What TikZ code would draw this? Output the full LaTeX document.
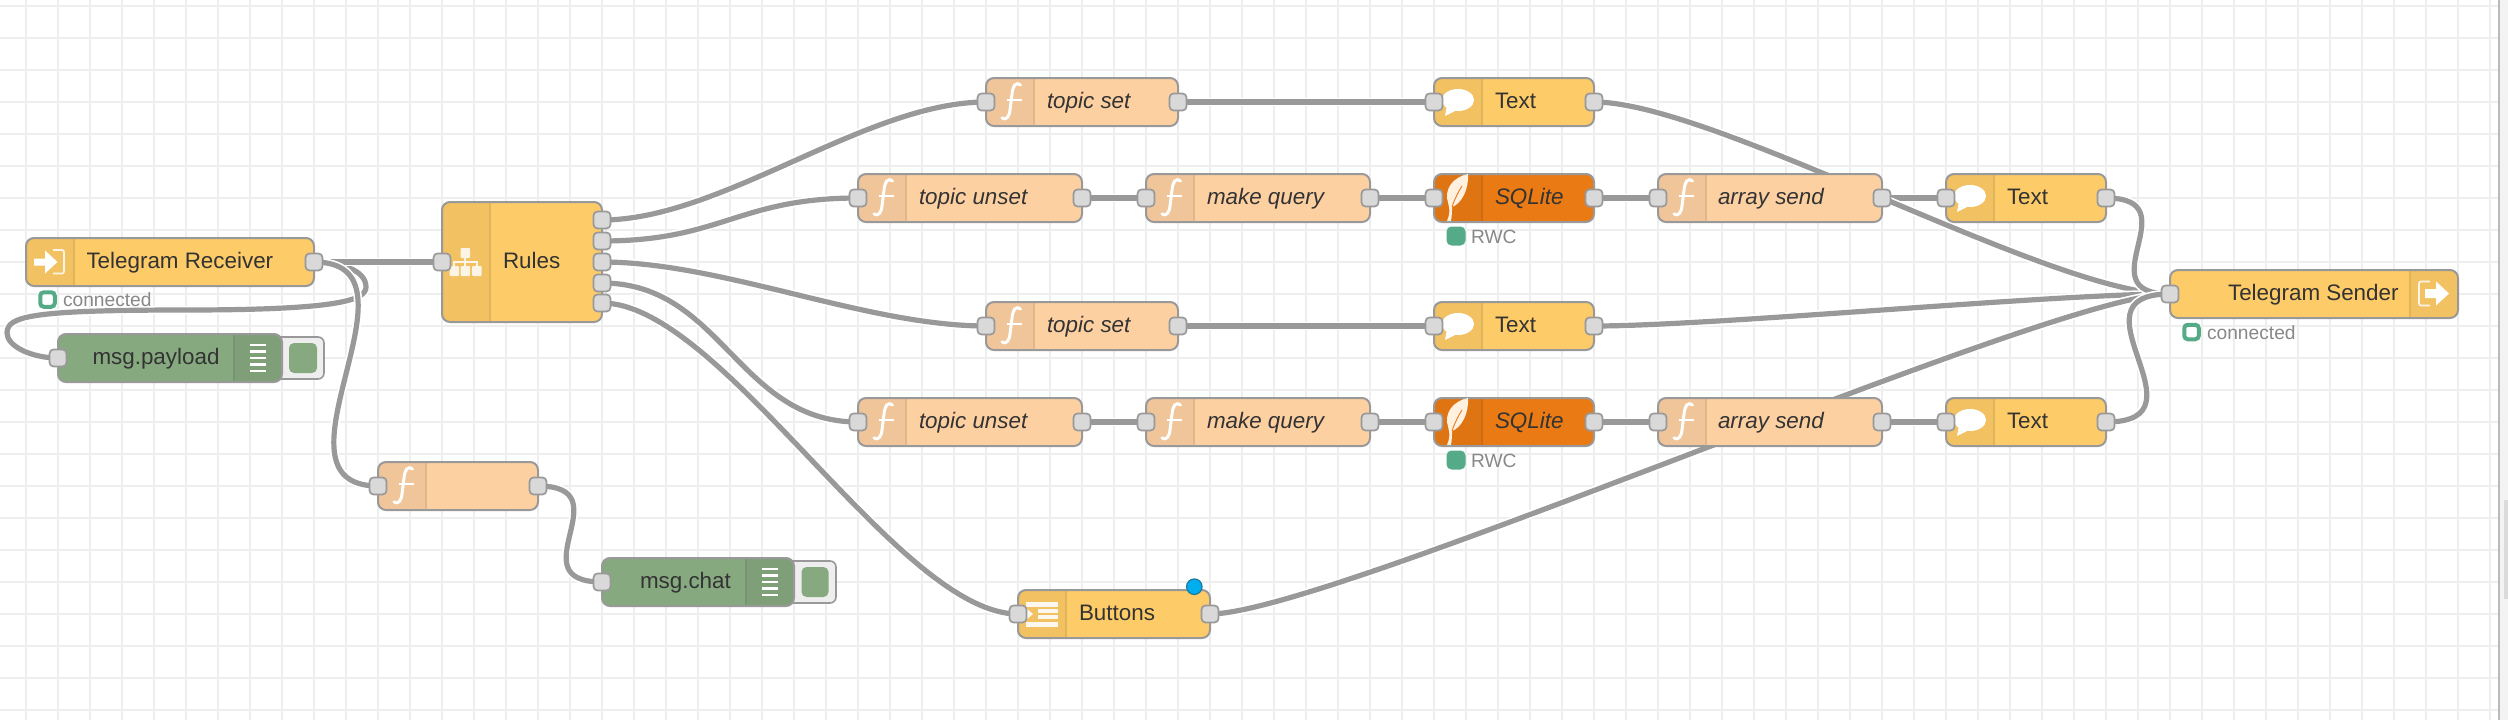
\documentclass[tikz,border=0pt]{standalone}
\usepackage{fontspec}
\setmainfont{Liberation Sans}
\pgfdeclarelayer{under}
\pgfsetlayers{under,main}
\definecolor{gridc}{HTML}{EEEEEE}
\definecolor{wirec}{HTML}{999999}
\definecolor{portc}{HTML}{D9D9D9}
\definecolor{txtc}{HTML}{333333}
\definecolor{stc}{HTML}{888888}
\definecolor{okc}{HTML}{55AA88}
\definecolor{yel}{HTML}{FDCB67}
\definecolor{yeld}{HTML}{F1C162}
\definecolor{fun}{HTML}{FDD0A2}
\definecolor{fund}{HTML}{F0C59A}
\definecolor{dbg}{HTML}{87A980}
\definecolor{dbgd}{HTML}{7F9F79}
\definecolor{sql}{HTML}{EA7A14}
\definecolor{sqld}{HTML}{DE7412}
\definecolor{depc}{HTML}{00AEEF}
\definecolor{depb}{HTML}{1A7A9C}
\tikzset{
  x=1pt,y=-1pt,
  portbox/.style={draw=wirec,fill=portc,line width=1.7pt,rounded corners=4pt,minimum width=17pt,minimum height=17pt,inner sep=0pt,outer sep=0pt},
  boxbase/.style={rectangle,inner sep=0pt,outer sep=0pt,rounded corners=8pt},
  nrlab/.style={anchor=base west,inner sep=0pt,outer sep=0pt,text=txtc,font=\fontsize{22.4pt}{26pt}\selectfont},
  nrital/.style={nrlab,font=\fontsize{22.4pt}{26pt}\selectfont\itshape},
  stlab/.style={anchor=base west,inner sep=0pt,outer sep=0pt,text=stc,font=\fontsize{19.2pt}{22pt}\selectfont},
  wirecase/.style={draw=white,line width=8.5pt},
  wireline/.style={draw=wirec,line width=5.2pt},
}
% name, x1, x2, ytop, ybot, base, dark, section x1, section x2
\newcommand\nrbox[9]{%
  \node[boxbase,fill=#6,minimum width={(#3)-(#2)},minimum height={(#5)-(#4)}] (#1) at ({((#2)+(#3))/2},{((#4)+(#5))/2}) {};
  \begin{scope}
    \clip[rounded corners=8pt] (#2,#4) rectangle (#3,#5);
    \fill[#7] (#8,#4) rectangle (#9,#5);
    \draw[black!7!#7,line width=1.4pt] (#8,#4) rectangle (#9,#5);
  \end{scope}
  \draw[wirec,line width=2pt,rounded corners=8pt] (#2,#4) rectangle (#3,#5);
}
\newcommand\nrport[3]{\node[portbox] (#1) at (#2,#3) {};}
\newcommand\wirepath[3]{%
  \begin{pgfonlayer}{under}
  \path[wirecase] (#1.center) .. controls ([xshift=#3pt]#1.center) and ([xshift=-#3pt]#2.center) .. (#2.center);
  \path[wireline] (#1.center) .. controls ([xshift=#3pt]#1.center) and ([xshift=-#3pt]#2.center) .. (#2.center);
  \end{pgfonlayer}
}
% function icon at section left x, centre y
\newcommand\fnicon[2]{%
  \begin{scope}[shift={(#1,#2)}]
    \draw[white,line width=3pt,line cap=round] (34.5,-17) .. controls (29,-20.5) and (27,-16) .. (26,-8) -- (24,8) .. controls (23,15.5) and (20,18.5) .. (16,16);
    \draw[white,line width=1.9pt] (20.5,-2) -- (35.5,-2);
  \end{scope}}
\newcommand\bubbleicon[2]{%
  \begin{scope}[shift={(#1,#2)}]
    \fill[white] (24,-2) ellipse [x radius=16,y radius=11];
    \fill[white] (13,3) -- (11,14) -- (23,8) -- cycle;
  \end{scope}}
\newcommand\feathericon[2]{%
  \begin{scope}[shift={(#1,#2)}]
    \fill[white!88!orange] (34,-24) .. controls (20,-21) and (12,-11) .. (13,0) -- (15,9) .. controls (16,14) and (15,18) .. (13,23) -- (17,23) .. controls (18,17) and (18,13) .. (18,9) .. controls (27,6) and (35,-8) .. (34,-24) -- cycle;
    \draw[sql,line width=0.9pt] (28,-12) .. controls (23,-4) and (20,3) .. (18,9);
  \end{scope}}
\newcommand\debugicon[2]{%
  \begin{scope}[shift={(#1,#2)}]
    \foreach \yy in {-13,-6.5,0,6.5,13} {\draw[white,line width=2.3pt] (0,\yy) -- (16,\yy);}
  \end{scope}}
\newcommand\stsquare[3]{\node[draw=okc,fill=white,line width=4pt,rounded corners=3.5pt,minimum width=14.5pt,minimum height=14.5pt,inner sep=0pt,outer sep=0pt] (#1) at (#2,#3) {};}
\newcommand\stdot[3]{\node[fill=okc,rounded corners=5pt,minimum width=19pt,minimum height=19pt,inner sep=0pt,outer sep=0pt] (#1) at (#2,#3) {};}
\begin{document}
\begin{tikzpicture}
\path[use as bounding box] (0,0) rectangle (2508,720);
\begin{pgfonlayer}{under}
  \fill[white] (0,0) rectangle (2508,720);
  \foreach \gx in {0,...,77} {\draw[gridc,line width=1.8pt] ({26+32*\gx},0) -- ({26+32*\gx},720);}
  \foreach \gy in {0,...,22} {\draw[gridc,line width=1.8pt] (0,{6+32*\gy}) -- (2499,{6+32*\gy});}
  \fill[gridc!70!white] (2499,0) rectangle (2508,720);
  \fill[black!27] (2498,0) rectangle (2500,720);
  \fill[black!14] (2504,500) rectangle (2508,599);
\end{pgfonlayer}

% --- nodes
\nrbox{tr}{26}{314}{238}{286}{yel}{yeld}{26}{74}
\nrbox{rules}{442}{602}{202}{322}{yel}{yeld}{442}{490}
% debug buttons first, so the node overlaps them
\node[draw=wirec,fill=gridc,line width=1.6pt,rounded corners=6pt,minimum width=50pt,minimum height=42pt,inner sep=0pt] (pbtn) at (299,358) {};
\node[fill=dbg,rounded corners=5pt,minimum width=28pt,minimum height=30pt,inner sep=0pt] (pbtni) at (303,358) {};
\node[draw=wirec,fill=gridc,line width=1.6pt,rounded corners=6pt,minimum width=50pt,minimum height=42pt,inner sep=0pt] (cbtn) at (811,582) {};
\node[fill=dbg,rounded corners=5pt,minimum width=27pt,minimum height=30pt,inner sep=0pt] (cbtni) at (815,582) {};
\nrbox{payload}{58}{282}{334}{382}{dbg}{dbgd}{234}{282}
\nrbox{fblank}{378}{538}{462}{510}{fun}{fund}{378}{426}
\nrbox{chat}{602}{794}{558}{606}{dbg}{dbgd}{746}{794}
\nrbox{buttons}{1018}{1210}{590}{638}{yel}{yeld}{1018}{1066}
\nrbox{tsa}{986}{1178}{78}{126}{fun}{fund}{986}{1034}
\nrbox{txa}{1434}{1594}{78}{126}{yel}{yeld}{1434}{1482}
\nrbox{tua}{858}{1082}{174}{222}{fun}{fund}{858}{906}
\nrbox{mqa}{1146}{1370}{174}{222}{fun}{fund}{1146}{1194}
\nrbox{sqa}{1434}{1594}{174}{222}{sql}{sqld}{1434}{1482}
\nrbox{asa}{1658}{1882}{174}{222}{fun}{fund}{1658}{1706}
\nrbox{txb}{1946}{2106}{174}{222}{yel}{yeld}{1946}{1994}
\nrbox{sender}{2170}{2458}{270}{318}{yel}{yeld}{2410}{2458}
\nrbox{tsb}{986}{1178}{302}{350}{fun}{fund}{986}{1034}
\nrbox{txc}{1434}{1594}{302}{350}{yel}{yeld}{1434}{1482}
\nrbox{tub}{858}{1082}{398}{446}{fun}{fund}{858}{906}
\nrbox{mqb}{1146}{1370}{398}{446}{fun}{fund}{1146}{1194}
\nrbox{sqb}{1434}{1594}{398}{446}{sql}{sqld}{1434}{1482}
\nrbox{asb}{1658}{1882}{398}{446}{fun}{fund}{1658}{1706}
\nrbox{txd}{1946}{2106}{398}{446}{yel}{yeld}{1946}{1994}

% --- icons
% Telegram receiver
\fill[white] (34,258.5) -- (45,258.5) -- (45,250.5) -- (57.5,262) -- (45,273.5) -- (45,265.5) -- (34,265.5) -- cycle;
\draw[white,line width=1.7pt,opacity=.85,rounded corners=2pt] (53,250) -- (64,250) -- (64,273.5) -- (53,273.5);
% Telegram sender
\fill[white] (2425,289) -- (2436,289) -- (2436,281.5) -- (2449,293.5) -- (2436,305.5) -- (2436,298) -- (2425,298) -- cycle;
\draw[white,line width=1.7pt,opacity=.85,rounded corners=2pt] (2430,281.5) -- (2419,281.5) -- (2419,305.5) -- (2430,305.5);
% Switch
\begin{scope}[white,opacity=.85]
  \fill[rounded corners=1pt] (460.5,248) rectangle (470,258);
  \fill[rounded corners=1pt] (449.5,266) rectangle (459,276);
  \fill[rounded corners=1pt] (460.5,266) rectangle (470,276);
  \fill[rounded corners=1pt] (472,266) rectangle (481.5,276);
  \draw[line width=1.5pt] (465,258) -- (465,266) (454,266) -- (454,262) -- (477,262) -- (477,266);
\end{scope}
\fnicon{986}{102} \fnicon{986}{326}
\fnicon{858}{198} \fnicon{858}{422}
\fnicon{1146}{198} \fnicon{1146}{422}
\fnicon{1658}{198} \fnicon{1658}{422}
\fnicon{378}{486}
\bubbleicon{1434}{102} \bubbleicon{1434}{326}
\bubbleicon{1946}{198} \bubbleicon{1946}{422}
\feathericon{1434}{198} \feathericon{1434}{422}
\debugicon{250}{358} \debugicon{762}{582}
% Buttons icon
\begin{scope}[white,opacity=.9]
  \fill (1026,602) rectangle (1058,607);
  \fill (1038,608.5) rectangle (1058,612.5);
  \fill (1038,615) rectangle (1058,619);
  \fill (1026,621.5) rectangle (1058,626.5);
  \fill (1026,608) -- (1033,614) -- (1026,620) -- cycle;
\end{scope}

% --- labels
\node[nrlab] (ltr) at (86.5,268.5) {Telegram Receiver};
\node[nrlab] (lrules) at (503,268.5) {Rules};
\node[nrlab] (lpay) at (92.5,364.5) {msg.payload};
\node[nrlab] (lchat) at (640,588.5) {msg.chat};
\node[nrlab] (lbtn) at (1079,620.5) {Buttons};
\node[nrlab] (lsend) at (2228,300.5) {Telegram Sender};
\node[nrlab] (ltxa) at (1495,108.5) {Text};
\node[nrlab] (ltxc) at (1495,332.5) {Text};
\node[nrlab] (ltxb) at (2007,204.5) {Text};
\node[nrlab] (ltxd) at (2007,428.5) {Text};
\node[nrital] (ltsa) at (1047,108.5) {topic set};
\node[nrital] (ltsb) at (1047,332.5) {topic set};
\node[nrital] (ltua) at (919,204.5) {topic unset};
\node[nrital] (ltub) at (919,428.5) {topic unset};
\node[nrital] (lmqa) at (1207,204.5) {make query};
\node[nrital] (lmqb) at (1207,428.5) {make query};
\node[nrital] (lsqa) at (1495,204.5) {SQLite};
\node[nrital] (lsqb) at (1495,428.5) {SQLite};
\node[nrital] (lasa) at (1718,204.5) {array send};
\node[nrital] (lasb) at (1718,428.5) {array send};

% --- status
\stsquare{strx}{47.5}{299.5}
\node[stlab] (sttr) at (63,306.8) {connected};
\stsquare{stsx}{2191.5}{332}
\node[stlab] (stse) at (2207,339) {connected};
\stdot{dsqa}{1456}{236}
\node[stlab] (lrwa) at (1471,243) {RWC};
\stdot{dsqb}{1456}{460}
\node[stlab] (lrwb) at (1471,467) {RWC};
\node[draw=depb,fill=depc,line width=1.2pt,circle,minimum size=15.5pt,inner sep=0pt] (dep) at (1194.3,586.7) {};

% --- ports
\nrport{trO}{314}{262}
\nrport{rI}{442}{262}
\nrport{rO1}{602}{220}
\nrport{rO2}{602}{241}
\nrport{rO3}{602}{262}
\nrport{rO4}{602}{283}
\nrport{rO5}{602}{303}
\nrport{payI}{58}{358}
\nrport{fbI}{378}{486}
\nrport{fbO}{538}{486}
\nrport{chI}{602}{582}
\nrport{bI}{1018}{614}
\nrport{bO}{1210}{614}
\nrport{tsaI}{986}{102}
\nrport{tsaO}{1178}{102}
\nrport{txaI}{1434}{102}
\nrport{txaO}{1594}{102}
\nrport{tuaI}{858}{198}
\nrport{tuaO}{1082}{198}
\nrport{mqaI}{1146}{198}
\nrport{mqaO}{1370}{198}
\nrport{sqaI}{1434}{198}
\nrport{sqaO}{1594}{198}
\nrport{asaI}{1658}{198}
\nrport{asaO}{1882}{198}
\nrport{txbI}{1946}{198}
\nrport{txbO}{2106}{198}
\nrport{seI}{2170}{294}
\nrport{tsbI}{986}{326}
\nrport{tsbO}{1178}{326}
\nrport{txcI}{1434}{326}
\nrport{txcO}{1594}{326}
\nrport{tubI}{858}{422}
\nrport{tubO}{1082}{422}
\nrport{mqbI}{1146}{422}
\nrport{mqbO}{1370}{422}
\nrport{sqbI}{1434}{422}
\nrport{sqbO}{1594}{422}
\nrport{asbI}{1658}{422}
\nrport{asbO}{1882}{422}
\nrport{txdI}{1946}{422}
\nrport{txdO}{2106}{422}

% --- wires
\begin{pgfonlayer}{under}
  \path[wirecase] (trO.center) .. controls (340,262) and (366,270) .. (366,287) .. controls (366,300) and (340,310) .. (186,310) .. controls (32,310) and (7,316) .. (7,333) .. controls (7,346) and (31,358) .. (payI.center);
  \path[wireline] (trO.center) .. controls (340,262) and (366,270) .. (366,287) .. controls (366,300) and (340,310) .. (186,310) .. controls (32,310) and (7,316) .. (7,333) .. controls (7,346) and (31,358) .. (payI.center);
\end{pgfonlayer}
\wirepath{trO}{rI}{20}
\wirepath{trO}{fbI}{120}
\wirepath{fbO}{chI}{86.6}
\wirepath{rO1}{tsaI}{120}
\wirepath{rO2}{tuaI}{120}
\wirepath{rO3}{tsbI}{120}
\wirepath{rO4}{tubI}{120}
\wirepath{rO5}{bI}{120}
\wirepath{tsaO}{txaI}{40}
\wirepath{tsbO}{txcI}{40}
\wirepath{tuaO}{mqaI}{20}
\wirepath{mqaO}{sqaI}{20}
\wirepath{sqaO}{asaI}{20}
\wirepath{asaO}{txbI}{20}
\wirepath{tubO}{mqbI}{20}
\wirepath{mqbO}{sqbI}{20}
\wirepath{sqbO}{asbI}{20}
\wirepath{asbO}{txdI}{20}
\wirepath{txaO}{seI}{120}
\wirepath{txcO}{seI}{120}
\wirepath{bO}{seI}{120}
\wirepath{txbO}{seI}{86.6}
\wirepath{txdO}{seI}{107}
\end{tikzpicture}
\end{document}
